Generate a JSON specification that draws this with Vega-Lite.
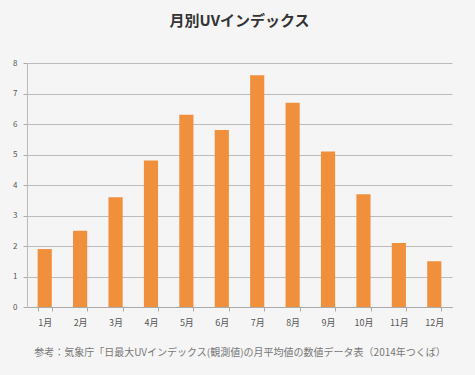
{
  "$schema": "https://vega.github.io/schema/vega-lite/v6.json",
  "width": 425,
  "height": 244,
  "autosize": {"type": "none"},
  "padding": {"left": 27, "top": 63, "right": 23, "bottom": 68},
  "background": "#f5f5f5",
  "title": {
    "text": "月別UVインデックス",
    "font": "Noto Sans CJK JP",
    "fontSize": 15,
    "fontWeight": "bold",
    "color": "#333333",
    "anchor": "middle",
    "offset": 30
  },
  "data": {
    "values": [
      {"month": "1月", "uv": 1.9},
      {"month": "2月", "uv": 2.5},
      {"month": "3月", "uv": 3.6},
      {"month": "4月", "uv": 4.8},
      {"month": "5月", "uv": 6.3},
      {"month": "6月", "uv": 5.8},
      {"month": "7月", "uv": 7.6},
      {"month": "8月", "uv": 6.7},
      {"month": "9月", "uv": 5.1},
      {"month": "10月", "uv": 3.7},
      {"month": "11月", "uv": 2.1},
      {"month": "12月", "uv": 1.5}
    ]
  },
  "mark": {"type": "bar", "color": "#f0903d"},
  "encoding": {
    "x": {
      "field": "month",
      "type": "nominal",
      "sort": null,
      "scale": {"paddingInner": 0.6, "paddingOuter": 0.3},
      "axis": {
        "title": "参考：気象庁「日最大UVインデックス(観測値)の月平均値の数値データ表（2014年つくば）",
        "titleFont": "Noto Sans CJK JP",
        "titleFontSize": 10,
        "titleFontWeight": "normal",
        "titleColor": "#777777",
        "titlePadding": 20,
        "labelAngle": 0,
        "labelFont": "Noto Sans CJK JP",
        "labelFontSize": 9,
        "labelColor": "#555555",
        "labelPadding": 7,
        "tickBand": "extent",
        "tickColor": "#aaaaaa",
        "tickSize": 4,
        "domainColor": "#aaaaaa",
        "grid": false
      }
    },
    "y": {
      "field": "uv",
      "type": "quantitative",
      "scale": {"domain": [0, 8], "nice": false},
      "axis": {
        "title": null,
        "values": [0, 1, 2, 3, 4, 5, 6, 7, 8],
        "labelOverlap": false,
        "labelFont": "Noto Sans CJK JP",
        "labelFontSize": 8,
        "labelColor": "#555555",
        "labelPadding": 6,
        "tickColor": "#aaaaaa",
        "tickSize": 4,
        "domainColor": "#bbbbbb",
        "gridColor": "#bbbbbb",
        "gridWidth": 1
      }
    }
  },
  "config": {"view": {"stroke": null}}
}
